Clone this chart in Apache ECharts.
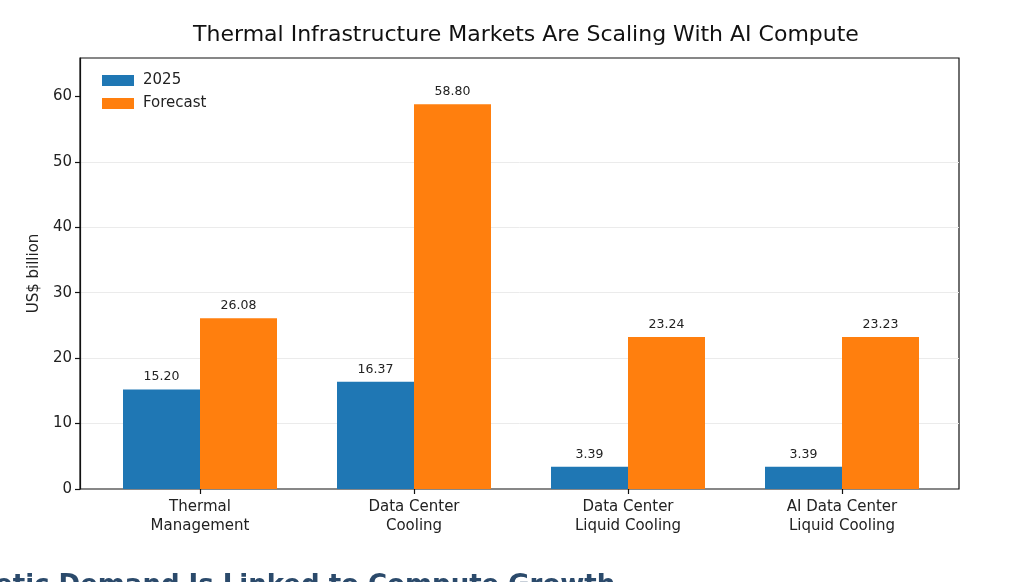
<!DOCTYPE html>
<html>
<head>
<meta charset="utf-8">
<script src="https://cdn.jsdelivr.net/npm/echarts@6/dist/echarts.min.js"></script>
<style>
  html, body { margin: 0; padding: 0; background: #fff; }
  #chart { width: 1034px; height: 582px; }
</style>
</head>
<body>
<div id="chart"></div>
<script>
// data
let categories = ['Thermal\nManagement', 'Data Center\nCooling', 'Data Center\nLiquid Cooling', 'AI Data Center\nLiquid Cooling'];
let values2025 = [15.20, 16.37, 3.39, 3.39];
let valuesForecast = [26.08, 58.80, 23.24, 23.23];
let seriesNames = ['2025', 'Forecast'];
let yTicks = [0, 10, 20, 30, 40, 50, 60];

let yMax = 65.86;
let font = 'DejaVu Sans';

function barLabel() {
    return {
        show: true,
        position: 'top',
        distance: 6,
        fontFamily: font,
        fontSize: 12.5,
        color: '#222',
        formatter: function (p) { return p.value.toFixed(2); }
    };
}

let option = {
    animation: false,
    backgroundColor: '#fff',
    title: {
        text: 'Thermal Infrastructure Markets Are Scaling With AI Compute',
        left: 521,
        textAlign: 'center',
        top: 19,
        textStyle: { fontFamily: font, fontSize: 22, fontWeight: 'normal', color: '#111' }
    },
    legend: {
        data: seriesNames,
        orient: 'vertical',
        left: 97,
        top: 68,
        itemWidth: 32,
        itemHeight: 11,
        itemGap: 8,
        icon: 'rect',
        textStyle: { fontFamily: font, fontSize: 15, color: '#222', padding: [0, 0, 0, 4] }
    },
    grid: [
        // frame grid: axis box, y ticks, gridlines
        { left: 80, right: 75, top: 58, bottom: 93, show: true, borderColor: '#111', borderWidth: 1.2, backgroundColor: 'transparent' },
        // bar grid: narrower so category centres line up
        { left: 93, right: 85, top: 58, bottom: 93 }
    ],
    xAxis: [
        { gridIndex: 0, type: 'value', min: 0, max: 1, show: false },
        {
            gridIndex: 1,
            type: 'category',
            data: categories,
            axisLine: { show: false },
            axisTick: { show: true, alignWithLabel: true, inside: false, length: 5, lineStyle: { color: '#111', width: 1.2 } },
            axisLabel: { fontFamily: font, fontSize: 15, color: '#222', margin: 9, lineHeight: 18.5, interval: 0 }
        }
    ],
    yAxis: [
        {
            gridIndex: 0,
            type: 'value',
            min: 0,
            max: yMax,
            interval: 10,
            name: 'US$ billion',
            nameLocation: 'middle',
            nameGap: 33,
            nameTextStyle: { fontFamily: font, fontSize: 15, color: '#222' },
            axisLine: { show: true, lineStyle: { color: '#111', width: 1.2 } },
            axisTick: { show: true, length: 5, customValues: yTicks, lineStyle: { color: '#111', width: 1.2 } },
            axisLabel: {
                fontFamily: font, fontSize: 15, color: '#222', margin: 8,
                customValues: yTicks,
                formatter: function (v) { return yTicks.indexOf(v) >= 0 ? String(v) : ''; }
            },
            splitLine: { show: true, showMinLine: false, showMaxLine: false, lineStyle: { color: '#ebebeb', width: 1 } }
        },
        { gridIndex: 1, type: 'value', min: 0, max: yMax, show: false, splitLine: { show: false } }
    ],
    series: [
        {
            name: seriesNames[0],
            type: 'bar',
            xAxisIndex: 1,
            yAxisIndex: 1,
            data: values2025,
            barWidth: 77,
            barGap: '0%',
            itemStyle: { color: '#1f77b4' },
            label: barLabel()
        },
        {
            name: seriesNames[1],
            type: 'bar',
            xAxisIndex: 1,
            yAxisIndex: 1,
            data: valuesForecast,
            barWidth: 77,
            barGap: '0%',
            itemStyle: { color: '#ff7f0e' },
            label: barLabel()
        }
    ],
    graphic: [
        {
            type: 'text',
            left: -90,
            top: 573,
            style: {
                text: 'Synthetic Demand Is Linked to Compute Growth',
                fontFamily: font,
                fontSize: 26,
                fontWeight: 'bold',
                fill: '#2b4a6b'
            }
        }
    ]
};

let myChart = echarts.init(document.getElementById('chart'));
myChart.setOption(option);
</script>
</body>
</html>
